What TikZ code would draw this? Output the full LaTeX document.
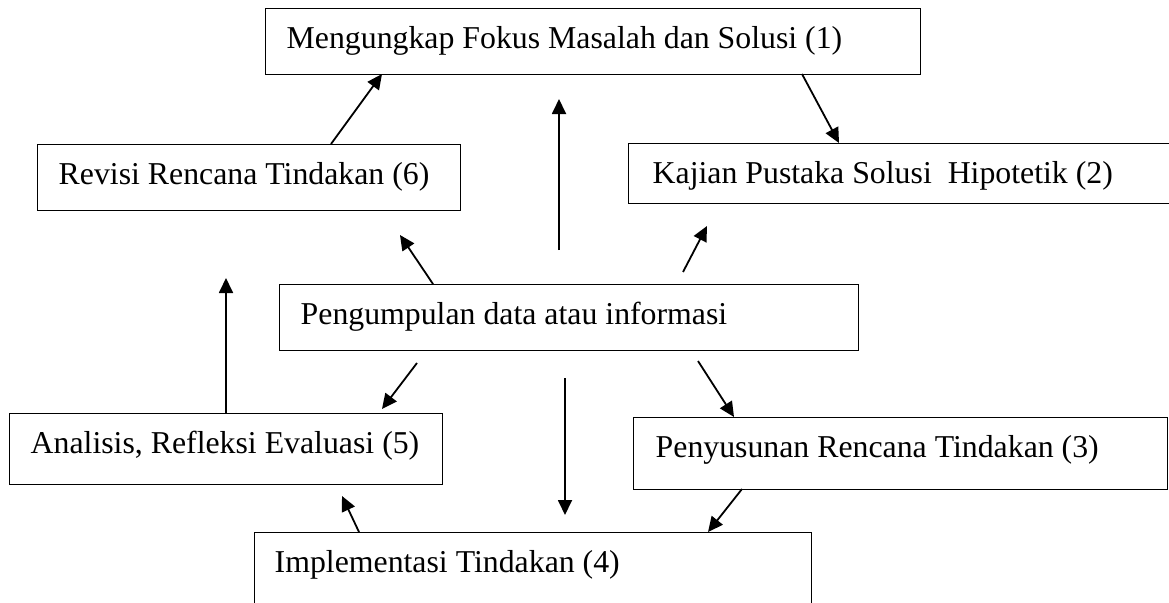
\documentclass[tikz,border=0pt]{standalone}
\usepackage{fontspec}
\setmainfont{Liberation Serif}
\usetikzlibrary{arrows.meta}
\newcommand{\boxtext}[2]{\makebox[#1][l]{#2}}
\begin{document}
\begin{tikzpicture}[x=1pt,y=-1pt,
  box/.style={draw, line width=1.4pt, anchor=north west, inner xsep=21pt, inner ysep=0pt,
    text height=40pt, font=\fontsize{31.8}{38}\selectfont},
  arr/.style={line width=1.8pt, -{Triangle[length=15pt,width=14pt]}}]
\useasboundingbox (0,0) rectangle (1169,602);
% boxes
\node[box, text depth=26pt] (m1) at (265,8) {\boxtext{613pt}{Mengungkap Fokus Masalah dan Solusi (1)}};
\node[box, inner xsep=24pt, text depth=20pt] (m2) at (628,143) {\boxtext{495pt}{Kajian Pustaka Solusi~ Hipotetik (2)}};
\node[box, text depth=26pt] (m6) at (37,144) {\boxtext{381pt}{Revisi Rencana Tindakan (6)}};
\node[box, text depth=26pt] (pd) at (279,284) {\boxtext{537pt}{Pengumpulan data atau informasi}};
\node[box, text depth=31pt] (m5) at (9,413) {\boxtext{391pt}{Analisis, Refleksi Evaluasi (5)}};
\node[box, inner xsep=22pt, text depth=32pt] (m3) at (633,417) {\boxtext{490pt}{Penyusunan Rencana Tindakan (3)}};
\node[box, inner xsep=20pt, text depth=80pt] (m4) at (254,532) {\boxtext{517pt}{Implementasi Tindakan (4)}};
% arrow end points
\coordinate (a1s) at (331,144); \coordinate (a1e) at (382,74);
\coordinate (a2s) at (802,74);  \coordinate (a2e) at (839,143);
\coordinate (a3s) at (559,250); \coordinate (a3e) at (559,99);
\coordinate (a4s) at (433,284); \coordinate (a4e) at (400,235);
\coordinate (a5s) at (683,272); \coordinate (a5e) at (707,226);
\coordinate (a6s) at (226,413); \coordinate (a6e) at (226,278);
\coordinate (a7s) at (417,363); \coordinate (a7e) at (382,409);
\coordinate (a8s) at (565,378); \coordinate (a8e) at (565,515);
\coordinate (a9s) at (698,361); \coordinate (a9e) at (734,417);
\coordinate (a10s) at (742,489); \coordinate (a10e) at (708,532);
\coordinate (a11s) at (359,532); \coordinate (a11e) at (342,496);
% arrows
\draw[arr] (a1s) -- (a1e);
\draw[arr] (a2s) -- (a2e);
\draw[arr] (a3s) -- (a3e);
\draw[arr] (a4s) -- (a4e);
\draw[arr] (a5s) -- (a5e);
\draw[arr] (a6s) -- (a6e);
\draw[arr] (a7s) -- (a7e);
\draw[arr] (a8s) -- (a8e);
\draw[arr] (a9s) -- (a9e);
\draw[arr] (a10s) -- (a10e);
\draw[arr] (a11s) -- (a11e);
\end{tikzpicture}
\end{document}
